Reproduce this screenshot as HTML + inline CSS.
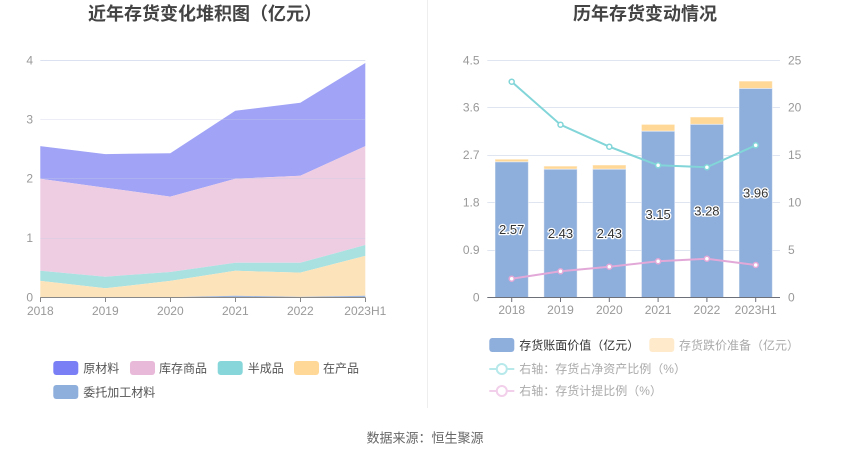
<!DOCTYPE html>
<html>
<head>
<meta charset="utf-8">
<style>
html,body{margin:0;padding:0;background:#fff;}
svg{display:block;}
text{font-family:"Liberation Sans","Noto Sans CJK SC",sans-serif;}
</style>
</head>
<body>
<svg width="850" height="459" viewBox="0 0 850 459" xmlns="http://www.w3.org/2000/svg">
<rect width="850" height="459" fill="#fff"/>
<!-- divider -->
<line x1="427.5" y1="0" x2="427.5" y2="408" stroke="#eeeeee" stroke-width="1"/>

<!-- Titles -->
<text x="205" y="20" font-size="18" font-weight="bold" fill="#444" text-anchor="middle">近年存货变化堆积图（亿元）</text>
<text x="645" y="20" font-size="18" font-weight="bold" fill="#444" text-anchor="middle">历年存货变动情况</text>

<!-- ============ LEFT CHART ============ -->
<!-- areas -->
<polygon fill="#a0a3f6" points="40.3,146.1 105.3,154.1 170.3,153.2 235.3,110.8 300.3,102.75 365.3,62.95 365.3,146.1 300.3,175.8 235.3,178.75 170.3,196.6 105.3,187.7 40.3,178.75"/>
<polygon fill="#eecde3" points="40.3,178.75 105.3,187.7 170.3,196.6 235.3,178.75 300.3,175.8 365.3,146.1 365.3,245.0 300.3,262.8 235.3,262.8 170.3,272.0 105.3,276.7 40.3,270.8"/>
<polygon fill="#a9e1e1" points="40.3,270.8 105.3,276.7 170.3,272.0 235.3,262.8 300.3,262.8 365.3,245.0 365.3,255.9 300.3,272.6 235.3,270.8 170.3,280.9 105.3,288.3 40.3,280.9"/>
<polygon fill="#fde3ba" points="40.3,280.9 105.3,288.3 170.3,280.9 235.3,270.8 300.3,272.6 365.3,255.9 365.3,295.7 300.3,296.9 235.3,295.7 170.3,297.2 105.3,297.5 40.3,297.5"/>
<polygon fill="#9db6df" points="40.3,297.5 105.3,297.5 170.3,297.2 235.3,295.7 300.3,296.9 365.3,295.7 365.3,297.5 40.3,297.5"/>
<!-- gridlines -->
<g stroke="#d9def0" stroke-width="1" opacity="0.9">
<line x1="40.3" y1="60.5" x2="365.3" y2="60.5"/>
</g>
<g stroke="#c9cde6" stroke-width="1" opacity="0.35">
<line x1="40.3" y1="119.5" x2="365.3" y2="119.5"/>
<line x1="40.3" y1="178.5" x2="365.3" y2="178.5"/>
<line x1="40.3" y1="238.5" x2="365.3" y2="238.5"/>
</g>
<!-- axis -->
<line x1="40.3" y1="297.5" x2="365.3" y2="297.5" stroke="#888" stroke-width="1"/>
<g stroke="#888" stroke-width="1">
<line x1="40.5" y1="297.5" x2="40.5" y2="302"/>
<line x1="105.5" y1="297.5" x2="105.5" y2="302"/>
<line x1="170.5" y1="297.5" x2="170.5" y2="302"/>
<line x1="235.5" y1="297.5" x2="235.5" y2="302"/>
<line x1="300.5" y1="297.5" x2="300.5" y2="302"/>
<line x1="365.5" y1="297.5" x2="365.5" y2="302"/>
</g>
<g font-size="12" fill="#999" text-anchor="end">
<text x="33" y="64.5">4</text>
<text x="33" y="123.5">3</text>
<text x="33" y="182.5">2</text>
<text x="33" y="242">1</text>
<text x="33" y="301.5">0</text>
</g>
<g font-size="12" fill="#999" text-anchor="middle">
<text x="40.3" y="315">2018</text>
<text x="105.3" y="315">2019</text>
<text x="170.3" y="315">2020</text>
<text x="235.3" y="315">2021</text>
<text x="300.3" y="315">2022</text>
<text x="365.3" y="315">2023H1</text>
</g>

<!-- left legend -->
<rect x="53.3" y="361" width="25" height="14" rx="3" fill="#7b7ff5"/>
<text x="83.3" y="372.5" font-size="12" fill="#555">原材料</text>
<rect x="130" y="361" width="25" height="14" rx="3" fill="#e8b9d9"/>
<text x="159" y="372.5" font-size="12" fill="#555">库存商品</text>
<rect x="217.7" y="361" width="25" height="14" rx="3" fill="#87d7da"/>
<text x="247.7" y="372.5" font-size="12" fill="#555">半成品</text>
<rect x="294" y="361" width="25" height="14" rx="3" fill="#ffd898"/>
<text x="323" y="372.5" font-size="12" fill="#555">在产品</text>
<rect x="53.3" y="385" width="25" height="14" rx="3" fill="#8eaedb"/>
<text x="83.3" y="396.5" font-size="12" fill="#555">委托加工材料</text>

<!-- ============ RIGHT CHART ============ -->
<g stroke="#e0e6f1" stroke-width="1">
<line x1="487.3" y1="60.5" x2="780" y2="60.5"/>
<line x1="487.3" y1="107.5" x2="780" y2="107.5"/>
<line x1="487.3" y1="155.5" x2="780" y2="155.5"/>
<line x1="487.3" y1="202.5" x2="780" y2="202.5"/>
<line x1="487.3" y1="250.5" x2="780" y2="250.5"/>
</g>
<!-- bars -->
<g stroke="#ffffff" stroke-opacity="0.45" stroke-width="1">
<rect x="495.05" y="159.2" width="33.3" height="2.7" fill="#ffd898"/>
<rect x="495.05" y="161.9" width="33.3" height="135.6" fill="#8eaedb"/>
<rect x="543.85" y="166.1" width="33.3" height="3.15" fill="#ffd898"/>
<rect x="543.85" y="169.25" width="33.3" height="128.25" fill="#8eaedb"/>
<rect x="592.65" y="165.0" width="33.3" height="4.25" fill="#ffd898"/>
<rect x="592.65" y="169.25" width="33.3" height="128.25" fill="#8eaedb"/>
<rect x="641.45" y="124.4" width="33.3" height="6.85" fill="#ffd898"/>
<rect x="641.45" y="131.25" width="33.3" height="166.25" fill="#8eaedb"/>
<rect x="690.25" y="117.0" width="33.3" height="7.4" fill="#ffd898"/>
<rect x="690.25" y="124.4" width="33.3" height="173.1" fill="#8eaedb"/>
<rect x="739.05" y="81.1" width="33.3" height="7.4" fill="#ffd898"/>
<rect x="739.05" y="88.5" width="33.3" height="209" fill="#8eaedb"/>
</g>
<!-- axis -->
<line x1="487.3" y1="297.5" x2="780" y2="297.5" stroke="#6e7079" stroke-width="1"/>
<g stroke="#6e7079" stroke-width="1">
<line x1="511.7" y1="297.5" x2="511.7" y2="302"/>
<line x1="560.5" y1="297.5" x2="560.5" y2="302"/>
<line x1="609.3" y1="297.5" x2="609.3" y2="302"/>
<line x1="658.1" y1="297.5" x2="658.1" y2="302"/>
<line x1="706.9" y1="297.5" x2="706.9" y2="302"/>
<line x1="755.7" y1="297.5" x2="755.7" y2="302"/>
</g>
<!-- bar labels -->
<g font-size="13" fill="#333" text-anchor="middle" stroke="#fff" stroke-width="2.5" paint-order="stroke" stroke-linejoin="round">
<text x="511.7" y="234.2">2.57</text>
<text x="560.5" y="237.9">2.43</text>
<text x="609.3" y="237.9">2.43</text>
<text x="658.1" y="218.9">3.15</text>
<text x="706.9" y="215.5">3.28</text>
<text x="755.7" y="197.5">3.96</text>
</g>
<!-- lines -->
<polyline fill="none" stroke="#82d5d8" stroke-width="2" points="511.7,81.7 560.5,124.7 609.3,146.7 658.1,165.3 706.9,167.3 755.7,145.3"/>
<polyline fill="none" stroke="#e2a9d8" stroke-width="2" points="511.7,278.7 560.5,271.3 609.3,266.7 658.1,261.3 706.9,258.7 755.7,265"/>
<g fill="#fff" stroke="#82d5d8" stroke-width="1.5">
<circle cx="511.7" cy="81.7" r="2.5"/>
<circle cx="560.5" cy="124.7" r="2.5"/>
<circle cx="609.3" cy="146.7" r="2.5"/>
<circle cx="658.1" cy="165.3" r="2.5"/>
<circle cx="706.9" cy="167.3" r="2.5"/>
<circle cx="755.7" cy="145.3" r="2.5"/>
</g>
<g fill="#fff" stroke="#e2a9d8" stroke-width="1.5">
<circle cx="511.7" cy="278.7" r="2.5"/>
<circle cx="560.5" cy="271.3" r="2.5"/>
<circle cx="609.3" cy="266.7" r="2.5"/>
<circle cx="658.1" cy="261.3" r="2.5"/>
<circle cx="706.9" cy="258.7" r="2.5"/>
<circle cx="755.7" cy="265" r="2.5"/>
</g>
<!-- axis labels -->
<g font-size="12" fill="#999" text-anchor="end">
<text x="479.5" y="64.5">4.5</text>
<text x="479.5" y="111.5">3.6</text>
<text x="479.5" y="159">2.7</text>
<text x="479.5" y="206.5">1.8</text>
<text x="479.5" y="254">0.9</text>
<text x="479.5" y="301.5">0</text>
</g>
<g font-size="12" fill="#999" text-anchor="start">
<text x="788" y="64.5">25</text>
<text x="788" y="111.5">20</text>
<text x="788" y="159">15</text>
<text x="788" y="206.5">10</text>
<text x="788" y="254">5</text>
<text x="788" y="301.5">0</text>
</g>
<g font-size="12" fill="#999" text-anchor="middle">
<text x="511.7" y="314">2018</text>
<text x="560.5" y="314">2019</text>
<text x="609.3" y="314">2020</text>
<text x="658.1" y="314">2021</text>
<text x="706.9" y="314">2022</text>
<text x="755.7" y="314">2023H1</text>
</g>

<!-- right legend -->
<rect x="489.3" y="338" width="25" height="14" rx="3" fill="#8eaedb"/>
<text x="519.3" y="349.5" font-size="12" fill="#333">存货账面价值（亿元）</text>
<rect x="649.3" y="338" width="25" height="14" rx="3" fill="#ffebcc"/>
<text x="679" y="349.5" font-size="12" fill="#aaa">存货跌价准备（亿元）</text>
<line x1="489.3" y1="369" x2="514.3" y2="369" stroke="#b7e9eb" stroke-width="2"/>
<circle cx="501.8" cy="369" r="5" fill="#fff" stroke="#b7e9eb" stroke-width="2"/>
<text x="519.3" y="373" font-size="12" fill="#aaa">右轴：存货占净资产比例（%）</text>
<line x1="489.3" y1="391" x2="514.3" y2="391" stroke="#f2cfea" stroke-width="2"/>
<circle cx="501.8" cy="391" r="5" fill="#fff" stroke="#f2cfea" stroke-width="2"/>
<text x="519.3" y="395" font-size="12" fill="#aaa">右轴：存货计提比例（%）</text>

<!-- source -->
<text x="425" y="442.5" font-size="13" fill="#666" text-anchor="middle">数据来源：恒生聚源</text>
</svg>
</body>
</html>
